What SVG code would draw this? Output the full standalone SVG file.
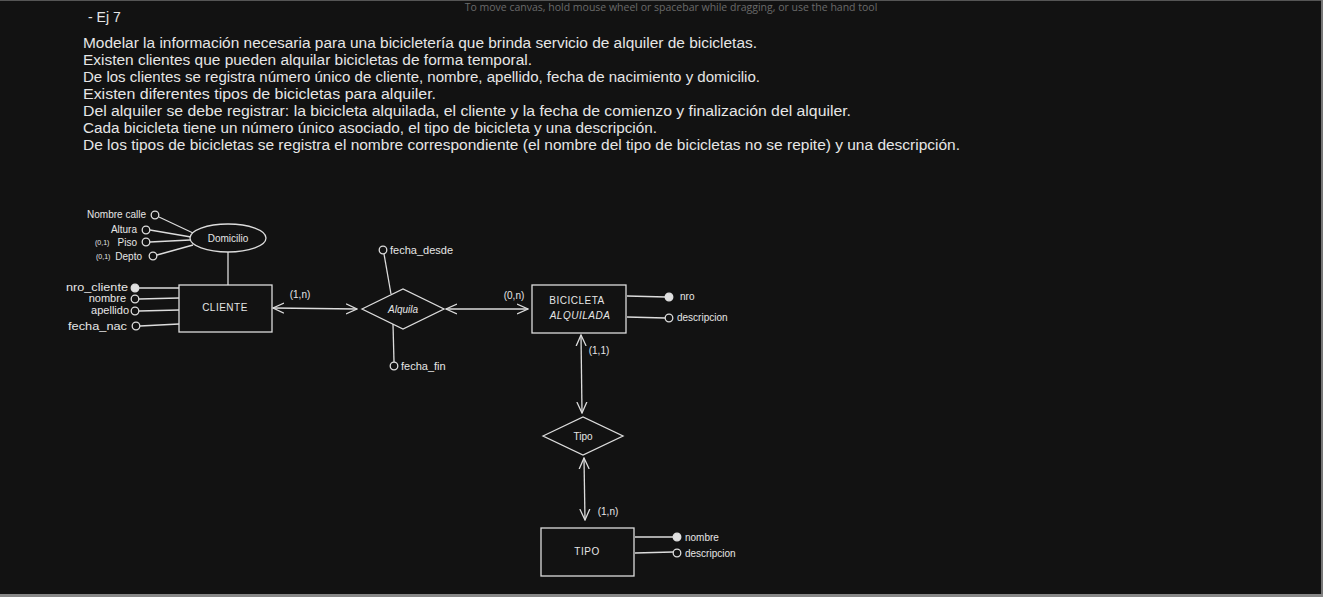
<svg xmlns="http://www.w3.org/2000/svg" width="1323" height="597" viewBox="0 0 1323 597">
<defs>
<style>
text{font-family:"Liberation Sans","DejaVu Sans",sans-serif;fill:#e6e6e6}
.p{font-size:14px}
.s{font-size:10px}
.m{font-size:11px}
.xs{font-size:7px}
.sh{fill:#121212;stroke:#dcdcdc;stroke-width:1.3}
.ln{stroke:#dcdcdc;stroke-width:1.3;fill:none}
.oc{fill:#121212;stroke:#dcdcdc;stroke-width:1.3}
.fc{fill:#e0e0e0;stroke:#e0e0e0;stroke-width:1.3}
</style>
<marker id="ah" viewBox="0 0 12 12" refX="11" refY="6" markerWidth="12" markerHeight="12" markerUnits="userSpaceOnUse" orient="auto-start-reverse">
<path d="M0,1 L11,6 L0,11" fill="none" stroke="#dcdcdc" stroke-width="1.3"/>
</marker>
</defs>
<rect width="1323" height="597" fill="#121212"/>
<line x1="0" y1="0.5" x2="1323" y2="0.5" stroke="#555" stroke-width="1"/>
<line x1="1322" y1="0" x2="1322" y2="597" stroke="#777" stroke-width="2"/>
<line x1="0" y1="595.5" x2="1323" y2="595.5" stroke="#888" stroke-width="3"/>
<text x="671" y="11" text-anchor="middle" style="font-family:'Open Sans',sans-serif;font-size:10.5px;fill:#6a6a6a">To move canvas, hold mouse wheel or spacebar while dragging, or use the hand tool</text>

<g id="text">
<text class="p" x="88" y="22">- Ej 7</text>
<text class="p" x="83" y="48" textLength="674" lengthAdjust="spacingAndGlyphs">Modelar la información necesaria para una bicicletería que brinda servicio de alquiler de bicicletas.</text>
<text class="p" x="83" y="65" textLength="449" lengthAdjust="spacingAndGlyphs">Existen clientes que pueden alquilar bicicletas de forma temporal.</text>
<text class="p" x="83" y="82" textLength="677" lengthAdjust="spacingAndGlyphs">De los clientes se registra número único de cliente, nombre, apellido, fecha de nacimiento y domicilio.</text>
<text class="p" x="83" y="99" textLength="353" lengthAdjust="spacingAndGlyphs">Existen diferentes tipos de bicicletas para alquiler.</text>
<text class="p" x="83" y="116" textLength="768" lengthAdjust="spacingAndGlyphs">Del alquiler se debe registrar: la bicicleta alquilada, el cliente y la fecha de comienzo y finalización del alquiler.</text>
<text class="p" x="83" y="133" textLength="574" lengthAdjust="spacingAndGlyphs">Cada bicicleta tiene un número único asociado, el tipo de bicicleta y una descripción.</text>
<text class="p" x="83" y="150" textLength="877" lengthAdjust="spacingAndGlyphs">De los tipos de bicicletas se registra el nombre correspondiente (el nombre del tipo de bicicletas no se repite) y una descripción.</text>
</g>

<g id="connectors">
<line class="ln" x1="159" y1="217" x2="193" y2="233"/>
<line class="ln" x1="150" y1="230" x2="191" y2="237"/>
<line class="ln" x1="150" y1="242" x2="190" y2="240"/>
<line class="ln" x1="157" y1="255" x2="193" y2="245"/>
<line class="ln" x1="228" y1="252" x2="228" y2="285"/>
<line class="ln" x1="139" y1="288" x2="179" y2="288"/>
<line class="ln" x1="139" y1="299" x2="179" y2="298"/>
<line class="ln" x1="139" y1="311" x2="179" y2="310"/>
<line class="ln" x1="140" y1="326" x2="179" y2="324"/>
<line class="ln" x1="273" y1="308" x2="357" y2="309" marker-start="url(#ah)" marker-end="url(#ah)"/>
<line class="ln" x1="446" y1="309" x2="528" y2="309" marker-start="url(#ah)" marker-end="url(#ah)"/>
<line class="ln" x1="384" y1="254" x2="391" y2="294"/>
<line class="ln" x1="394" y1="362" x2="393" y2="324"/>
<line class="ln" x1="627" y1="296" x2="666" y2="297"/>
<line class="ln" x1="627" y1="317" x2="665" y2="318"/>
<line class="ln" x1="581" y1="335" x2="582" y2="413" marker-start="url(#ah)" marker-end="url(#ah)"/>
<line class="ln" x1="584" y1="458" x2="585" y2="520" marker-start="url(#ah)" marker-end="url(#ah)"/>
<line class="ln" x1="635" y1="537" x2="673" y2="537"/>
<line class="ln" x1="635" y1="553" x2="673" y2="552"/>
</g>

<g id="domicilio">
<ellipse class="sh" cx="228" cy="238" rx="38" ry="14"/>
<text class="s" x="228" y="242" text-anchor="middle">Domicilio</text>
</g>
<g id="attr-nombre-calle"><circle class="oc" cx="155" cy="215" r="3.8"/><text class="s" x="146" y="218" text-anchor="end">Nombre calle</text></g>
<g id="attr-altura"><circle class="oc" cx="146" cy="230" r="3.8"/><text class="s" x="137" y="233" text-anchor="end">Altura</text></g>
<g id="attr-piso"><circle class="oc" cx="146" cy="242" r="3.8"/><text class="s" x="137" y="246" text-anchor="end">Piso</text><text class="xs" x="95" y="245">(0,1)</text></g>
<g id="attr-depto"><circle class="oc" cx="153" cy="256" r="3.8"/><text class="s" x="142" y="260" text-anchor="end">Depto</text><text class="xs" x="96" y="259">(0,1)</text></g>

<g id="cliente">
<rect class="sh" x="179" y="285" width="93" height="47"/>
<text class="s" x="225" y="311" text-anchor="middle" style="letter-spacing:0.5px">CLIENTE</text>
</g>
<g id="attr-nro-cliente"><circle class="fc" cx="135" cy="288" r="3.8"/><text class="m" x="128" y="291" text-anchor="end" textLength="62" lengthAdjust="spacingAndGlyphs">nro_cliente</text></g>
<g id="attr-nombre"><circle class="oc" cx="135" cy="299" r="3.8"/><text class="m" x="126" y="302" text-anchor="end">nombre</text></g>
<g id="attr-apellido"><circle class="oc" cx="135" cy="311" r="3.8"/><text class="m" x="129" y="314" text-anchor="end">apellido</text></g>
<g id="attr-fecha-nac"><circle class="oc" cx="136" cy="326" r="3.8"/><text class="m" x="127" y="330" text-anchor="end" textLength="59" lengthAdjust="spacingAndGlyphs">fecha_nac</text></g>

<g id="alquila">
<polygon class="sh" points="362,309 403,289 444,309 403,329"/>
<text class="s" x="403" y="313" text-anchor="middle" font-style="italic">Alquila</text>
</g>
<g id="attr-fecha-desde"><circle class="oc" cx="383" cy="250" r="3.8"/><text class="m" x="390" y="254">fecha_desde</text></g>
<g id="attr-fecha-fin"><circle class="oc" cx="394" cy="366" r="3.8"/><text class="m" x="401" y="370">fecha_fin</text></g>
<text class="s" x="300" y="298" text-anchor="middle">(1,n)</text>
<text class="s" x="514" y="299" text-anchor="middle">(0,n)</text>

<g id="bicicleta">
<rect class="sh" x="532" y="285" width="94" height="48"/>
<text class="s" x="577" y="304" text-anchor="middle" style="letter-spacing:0.5px">BICICLETA</text>
<text class="s" x="580" y="319" text-anchor="middle" font-style="italic" style="letter-spacing:0.5px">ALQUILADA</text>
</g>
<g id="attr-nro"><circle class="fc" cx="669" cy="297" r="3.8"/><text class="s" x="680" y="300">nro</text></g>
<g id="attr-descripcion-bici"><circle class="oc" cx="669" cy="318" r="3.8"/><text class="s" x="677" y="321">descripcion</text></g>
<text class="s" x="599" y="354" text-anchor="middle">(1,1)</text>

<g id="tipo-rel">
<polygon class="sh" points="543,436 583,417 623,436 583,455"/>
<text class="s" x="583" y="440" text-anchor="middle">Tipo</text>
</g>
<text class="s" x="608" y="515" text-anchor="middle">(1,n)</text>

<g id="tipo">
<rect class="sh" x="541" y="528" width="93" height="48"/>
<text class="s" x="587" y="555" text-anchor="middle" style="letter-spacing:0.5px">TIPO</text>
</g>
<g id="attr-nombre-tipo"><circle class="fc" cx="677" cy="537" r="3.8"/><text class="s" x="685" y="541">nombre</text></g>
<g id="attr-descripcion-tipo"><circle class="oc" cx="677" cy="553" r="3.8"/><text class="s" x="685" y="557">descripcion</text></g>
</svg>
